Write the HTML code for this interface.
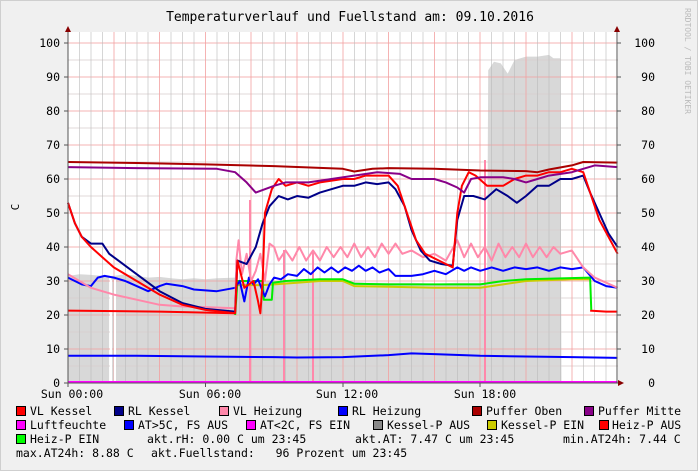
<!DOCTYPE html>
<html><head><meta charset="utf-8"><style>
html,body{margin:0;padding:0;background:#f0f0f0}
svg{display:block}
text{font-family:"DejaVu Sans Mono","Liberation Mono",monospace;fill:#000}
</style></head><body>
<svg width="698" height="471" viewBox="0 0 698 471" xmlns="http://www.w3.org/2000/svg">
<rect x="0" y="0" width="698" height="471" fill="#f0f0f0"/>
<rect x="0.5" y="0.5" width="697" height="470" fill="none" stroke="#cfcfcf" stroke-width="1"/>
<rect x="68" y="32" width="550" height="351" fill="#fff"/>
<text x="350" y="21" font-size="13" text-anchor="middle">Temperaturverlauf und Fuellstand am: 09.10.2016</text>
<text transform="translate(685,8) rotate(90)" font-size="8" fill="#bbb" style="fill:#bbb">RRDTOOL / TOBI OETIKER</text>
<text transform="translate(19,207) rotate(-90)" font-size="11" text-anchor="middle">C</text>

<g transform="translate(68,383) scale(22.9,-3.4)">
<polygon fill="#d8d8d8" points="0,0 0,31.5 0.5,32 1,31.8 1.5,31.5 1.8,31.5 1.8,0 1.9,0 1.9,31.5 2,31.5 2.5,32 3,31.5 3.5,31 4,31.2 4.5,30.8 5,30.5 5.5,30.8 6,30.5 6.5,30.8 7.3,31 7.35,30 8,29.5 9,30 10,30.5 11,30 12,30 13,29.5 14,29.5 15,29.5 16,29.2 17,29.5 18.3,29.5 18.35,92 18.6,94.5 18.9,94 19.2,91 19.5,95 20,96 20.5,96 21,96.5 21.2,95.5 21.5,95.5 21.55,0"/>
<rect x="1.8" y="0" width="0.1" height="32" fill="#fff"/>
</g>

<g stroke="#d9d0d0" stroke-opacity="0.8" stroke-width="1" shape-rendering="crispEdges">
<path d="M68,366H618M68,332H618M68,298H618M68,264H618M68,230H618M68,196H618M68,162H618M68,128H618M68,94H618M68,60H618"/>
</g>
<g stroke="#f2a0a0" stroke-opacity="0.8" stroke-width="1" shape-rendering="crispEdges">
<path d="M68,349H618M68,315H618M68,281H618M68,247H618M68,213H618M68,179H618M68,145H618M68,111H618M68,77H618M68,43H618"/>
<path d="M113.8,32V383M159.6,32V383M205.4,32V383M251.2,32V383M297,32V383M342.8,32V383M388.6,32V383M434.4,32V383M480.2,32V383M526,32V383M571.8,32V383"/>
</g>
<g stroke="#bbbbbb" stroke-opacity="0.6" stroke-width="1" shape-rendering="crispEdges">
<path d="M79.5,32V383M91,32V383M102.3,32V383M125.3,32V383M136.8,32V383M148.2,32V383M171,32V383M182.5,32V383M194,32V383M217,32V383M228.3,32V383M239.7,32V383M262.6,32V383M274,32V383M285.5,32V383M308.5,32V383M320,32V383M331.3,32V383M354.3,32V383M365.7,32V383M377,32V383M400,32V383M411.5,32V383M423,32V383M446,32V383M457.3,32V383M468.7,32V383M491.6,32V383M503,32V383M514.5,32V383M537.5,32V383M549,32V383M560.3,32V383M583.3,32V383M594.7,32V383M606,32V383"/>
</g>
<g stroke-width="2" shape-rendering="crispEdges">
<path d="M250,200V383M284,250V383M313,250V383M485,160V383" stroke="#ff88aa"/>
<path d="M111,280V383M115,280V383" stroke="#ffffff"/>
</g>

<g transform="translate(68,383) scale(22.9,-3.4)" fill="none" stroke-width="2" stroke-linejoin="round">
<polyline vector-effect="non-scaling-stroke" stroke="#0000ff" points="0,8 3,8 6,7.8 9,7.6 10,7.5 12,7.6 14,8.2 15,8.7 16,8.5 18,8 20,7.8 22,7.6 24,7.4"/>
<polyline vector-effect="non-scaling-stroke" stroke="#ff00ff" points="0,0.3 24,0.3"/>
<polyline vector-effect="non-scaling-stroke" stroke="#ff0000" points="0,21.3 4,21 7.3,20.5"/>
<polyline vector-effect="non-scaling-stroke" stroke="#ff0000" points="22.8,21.3 23.5,21 24,21"/>
<polyline vector-effect="non-scaling-stroke" stroke="#cccc00" points="7.3,28.8 8.5,28.8 9,29 10,29.5 11,30 12,30 12.5,28.5 14,28.3 16,28 18,28 19,29 20,30 22,30.5 22.8,30.5"/>
<polyline vector-effect="non-scaling-stroke" stroke="#00ee00" points="7.3,20 7.4,30 8.5,30 8.55,24.5 8.9,24.5 8.95,29.5 9.5,30 11,30.5 12,30.5 12.5,29.2 14,29 16,29 18,29 19,30 20,30.5 22.8,31 22.85,21.5"/>
<polyline vector-effect="non-scaling-stroke" stroke="#0000ff" points="0,31 0.6,29 1,28.5 1.3,31 1.6,31.5 2,31 2.5,30 3,28.5 3.5,27 4,28.5 4.3,29.2 5,28.5 5.5,27.5 6.5,27 7.3,28 7.5,30 7.7,24 7.9,31 8.1,29 8.3,30.5 8.5,27 8.6,25.5 8.8,29 9,31 9.3,30.5 9.6,32 10,31.5 10.3,33.5 10.6,32 10.9,34 11.2,32.5 11.5,34 11.8,32.5 12.1,34 12.4,33 12.7,34.5 13,33 13.3,34 13.6,32.5 14,33.5 14.3,31.5 15,31.5 15.5,32 16,33 16.5,32 17,34 17.3,33 17.6,34 18,33 18.5,34 19,33 19.5,34 20,33.5 20.5,34 21,33 21.5,34 22,33.5 22.5,34 23,30 23.5,28.5 24,28"/>
<polyline vector-effect="non-scaling-stroke" stroke="#ff88aa" points="0,32 0.5,30 1,28 2,26 3,24.5 4,23 5,22.5 6,22.3 7.3,22 7.35,36 7.45,42 7.6,32 7.8,38 8,30 8.2,33 8.4,38 8.6,30 8.8,41 9,40 9.2,36 9.5,39 9.8,36 10.1,40 10.4,36 10.7,39 11,36 11.3,40 11.6,37 11.9,40 12.2,37 12.5,41 12.8,37 13.1,40 13.4,37 13.7,41 14,38 14.3,41 14.6,38 15,39 15.5,37 16,38 16.5,36 17,42 17.3,37 17.6,41 17.9,37 18.2,40 18.5,36 18.8,41 19.1,37 19.4,40 19.7,37 20,41 20.3,37 20.6,40 20.9,37 21.2,40 21.5,38 22,39 22.5,34 23,31 23.5,29.5 24,28"/>
<polyline vector-effect="non-scaling-stroke" stroke="#000088" points="0,53 0.3,47 0.6,43 1,41 1.5,41 1.8,38 2.2,36 3,32 4,27 5,23.5 6,21.8 7.3,21 7.4,36 7.8,35 8.2,40 8.5,47 8.8,52 9.2,55 9.6,54 10,55 10.5,54.5 11,56 11.5,57 12,58 12.5,58 13,59 13.5,58.5 14,59 14.3,57 14.7,52 15,45 15.4,39 15.8,36 16.3,35 16.8,34.5 17,48 17.3,55 17.7,55 18.2,54 18.7,57 19.2,55 19.6,53 20,55 20.5,58 21,58 21.5,60 22,60 22.5,61 22.8,56 23.2,50 23.6,44 24,40"/>
<polyline vector-effect="non-scaling-stroke" stroke="#ff0000" points="0,53 0.3,47 0.6,43 1,40 1.5,37 2,34 3,30 4,26 5,23 6,21.5 7.3,20.5 7.4,36 7.7,28 8.1,30 8.3,24 8.4,20.5 8.5,30 8.6,50 8.9,57 9.2,60 9.5,58 10,59 10.5,58 11,59 12,60 12.5,60 13,61 14,61 14.4,58 14.8,50 15.2,42 15.6,38 16.2,36 16.8,34 17,50 17.2,58 17.5,62 17.8,61 18.3,58 19,58 19.5,60 20,61 20.5,61 21,62 21.5,62 22,63 22.5,62 22.8,56 23.2,48 23.6,43 24,38"/>
<polyline vector-effect="non-scaling-stroke" stroke="#880088" points="0,63.5 3,63.2 6.5,63 7.3,62 7.8,59 8.2,56 8.6,57 9,58 9.5,59 10.5,59 11.5,60 12.5,61 13.5,62 14.5,61.5 15,60 16,60 16.5,59 17,57.5 17.3,56 17.6,60 18,60.5 19,60.5 19.5,60 20,59 20.5,60 21,61 22,62 23,64 24,63.5"/>
<polyline vector-effect="non-scaling-stroke" stroke="#aa0000" points="0,65 3,64.7 6,64.3 9,63.8 12,63 12.5,62.2 13.3,63 14,63.2 16,63 18,62.5 20,62.3 20.5,62 21,62.8 22,64 22.5,65 24,64.8"/>
</g>

<g stroke="#555" stroke-width="1" shape-rendering="crispEdges">
<path d="M68,30V383M617,30V383M64,383H620"/>
<path d="M64,43H68M64,77H68M64,111H68M64,145H68M64,179H68M64,213H68M64,247H68M64,281H68M64,315H68M64,349H68"/>
<path d="M617,43H621M617,77H621M617,111H621M617,145H621M617,179H621M617,213H621M617,247H621M617,281H621M617,315H621M617,349H621"/>
<path d="M68,383V387M205.4,383V387M342.8,383V387M480.2,383V387"/>
</g>
<g fill="#880000"><polygon points="65,32 68,26 71,32"/><polygon points="614,32 617,26 620,32"/><polygon points="618,380 624,383 618,386"/></g>

<g font-size="11.5">
<g text-anchor="end">
<text x="60" y="47">100</text><text x="60" y="81">90</text><text x="60" y="115">80</text><text x="60" y="149">70</text><text x="60" y="183">60</text><text x="60" y="217">50</text><text x="60" y="251">40</text><text x="60" y="285">30</text><text x="60" y="319">20</text><text x="60" y="353">10</text><text x="60" y="387">0</text>
<text x="655" y="47">100</text><text x="655" y="81">90</text><text x="655" y="115">80</text><text x="655" y="149">70</text><text x="655" y="183">60</text><text x="655" y="217">50</text><text x="655" y="251">40</text><text x="655" y="285">30</text><text x="655" y="319">20</text><text x="655" y="353">10</text><text x="655" y="387">0</text>
</g>
<g text-anchor="middle">
<text x="72" y="398">Sun 00:00</text><text x="210" y="398">Sun 06:00</text><text x="347" y="398">Sun 12:00</text><text x="485" y="398">Sun 18:00</text>
</g>
</g>

<g font-size="11.5" stroke="#000" stroke-width="1">
<rect x="16.5" y="406.5" width="9" height="9" fill="#ff0000"/>
<rect x="114.5" y="406.5" width="9" height="9" fill="#000088"/>
<rect x="219.5" y="406.5" width="9" height="9" fill="#ff88aa"/>
<rect x="338.5" y="406.5" width="9" height="9" fill="#0000ff"/>
<rect x="472.5" y="406.5" width="9" height="9" fill="#aa0000"/>
<rect x="584.5" y="406.5" width="9" height="9" fill="#880088"/>
<rect x="16.5" y="420.5" width="9" height="9" fill="#ff00ff"/>
<rect x="124.5" y="420.5" width="9" height="9" fill="#0000ff"/>
<rect x="246.5" y="420.5" width="9" height="9" fill="#ff00ff"/>
<rect x="373.5" y="420.5" width="9" height="9" fill="#888888"/>
<rect x="487.5" y="420.5" width="9" height="9" fill="#cccc00"/>
<rect x="599.5" y="420.5" width="9" height="9" fill="#ff0000"/>
<rect x="16.5" y="434.5" width="9" height="9" fill="#00ff00"/>
</g>
<g font-size="11.5" style="white-space:pre">
<text x="30" y="415">VL Kessel</text>
<text x="128" y="415">RL Kessel</text>
<text x="233" y="415">VL Heizung</text>
<text x="352" y="415">RL Heizung</text>
<text x="486" y="415">Puffer Oben</text>
<text x="598" y="415">Puffer Mitte</text>
<text x="30" y="429">Luftfeuchte</text>
<text x="138" y="429">AT&gt;5C, FS AUS</text>
<text x="260" y="429">AT&lt;2C, FS EIN</text>
<text x="387" y="429">Kessel-P AUS</text>
<text x="501" y="429">Kessel-P EIN</text>
<text x="612" y="429">Heiz-P AUS</text>
<text x="30" y="443">Heiz-P EIN</text>
<text x="147" y="443">akt.rH: 0.00 C um 23:45</text>
<text x="355" y="443">akt.AT: 7.47 C um 23:45</text>
<text x="563" y="443">min.AT24h: 7.44 C</text>
<text x="16" y="457">max.AT24h: 8.88 C</text>
<text x="151" y="457" xml:space="preserve">akt.Fuellstand:   96 Prozent um 23:45</text>
</g>
</svg>
</body></html>
